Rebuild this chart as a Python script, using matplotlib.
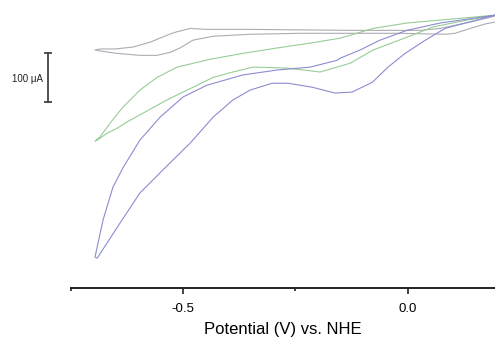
import matplotlib
matplotlib.use("Agg")
from matplotlib import pyplot as plt

# potential (V vs. NHE) and current (uA), one loop per run
gray_up_v = [0.194, 0.139, 0.072, 0.027, -0.128, -0.351, -0.447, -0.484, -0.518, -0.536, -0.573, -0.611, -0.651, -0.685, -0.696]
gray_up_i = [-2, -14, -27, -31, -31, -29, -29, -27, -35, -41, -55, -65, -69, -69, -71]
gray_dn_v = [-0.685, -0.647, -0.596, -0.558, -0.529, -0.507, -0.478, -0.433, -0.351, -0.240, -0.017, 0.083, 0.105, 0.139, 0.172, 0.194]
gray_dn_i = [-73, -78, -82, -82, -76, -67, -51, -43, -39, -37, -37, -39, -37, -27, -18, -14]

green_up_v = [0.194, 0.072, -0.002, -0.077, -0.151, -0.217, -0.291, -0.367, -0.440, -0.513, -0.558, -0.596, -0.634, -0.662, -0.685, -0.696]
green_up_i = [0, -10, -16, -27, -47, -57, -67, -78, -90, -106, -127, -153, -188, -220, -249, -257]
green_dn_v = [-0.691, -0.669, -0.647, -0.625, -0.589, -0.536, -0.491, -0.433, -0.389, -0.344, -0.269, -0.195, -0.128, -0.077, -0.002, 0.056, 0.132, 0.194]
green_dn_i = [-255, -241, -231, -218, -200, -173, -153, -127, -116, -106, -108, -116, -98, -71, -45, -24, -10, 0]

blue_up_v = [0.194, 0.072, -0.002, -0.062, -0.106, -0.151, -0.157, -0.217, -0.291, -0.367, -0.447, -0.500, -0.551, -0.596, -0.634, -0.656, -0.678, -0.696]
blue_up_i = [0, -16, -31, -51, -71, -88, -92, -106, -112, -122, -143, -167, -208, -255, -312, -351, -418, -494]
blue_dn_v = [-0.691, -0.669, -0.640, -0.596, -0.545, -0.484, -0.433, -0.389, -0.351, -0.302, -0.266, -0.213, -0.162, -0.124, -0.079, -0.044, -0.006, 0.039, 0.083, 0.194]
blue_dn_i = [-496, -465, -424, -363, -316, -261, -208, -173, -153, -139, -139, -147, -159, -157, -137, -106, -78, -51, -27, 0]

xticks = [-0.5, 0.0]
xtick_labels = ["-0.5", "0.0"]
minor_ticks = [-0.75, -0.25]

plt.rcParams['font.family'] = ['Liberation Sans', 'DejaVu Sans']

fig = plt.figure(figsize=(4.95, 3.39), dpi=100)
ax = fig.add_axes([70.7/495, 1 - 288/339, 1 - 70.7/495, 288/339])

ax.plot(gray_up_v + gray_dn_v, gray_up_i + gray_dn_i, color="#acacb4", lw=0.8)
ax.plot(green_up_v + green_dn_v, green_up_i + green_dn_i, color="#98cc98", lw=0.8)
ax.plot(blue_up_v + blue_dn_v, blue_up_i + blue_dn_i, color="#8c8cd0", lw=0.8)

ax.set_xlim(-0.75, 0.194)
ax.set_ylim(-557, 31)

for s in ["top", "right", "left"]:
    ax.spines[s].set_visible(False)
ax.spines["bottom"].set_linewidth(1.4)
ax.spines["bottom"].set_color("#222222")
ax.set_yticks([])
ax.set_xticks(xticks)
ax.set_xticklabels(xtick_labels, fontsize=9.5)
ax.set_xticks(minor_ticks, minor=True)
ax.tick_params(axis="x", which="major", direction="out", length=4.5, width=1.2, pad=6, color="#222222")
ax.tick_params(axis="x", which="minor", direction="out", length=2.5, width=1.2, color="#222222")
ax.set_xlabel("Potential (V) vs. NHE", fontsize=12, labelpad=5)

# 100 uA scale bar left of the plot
ax.plot([-0.800, -0.800], [-77.6, -177.6], color="#444444", lw=1.3, marker="_", ms=6, mew=1.3, clip_on=False)
ax.text(-0.812, -130, "100 μA", fontsize=7, ha="right", va="center", color="#222222")

plt.savefig("out.png", dpi=100)
